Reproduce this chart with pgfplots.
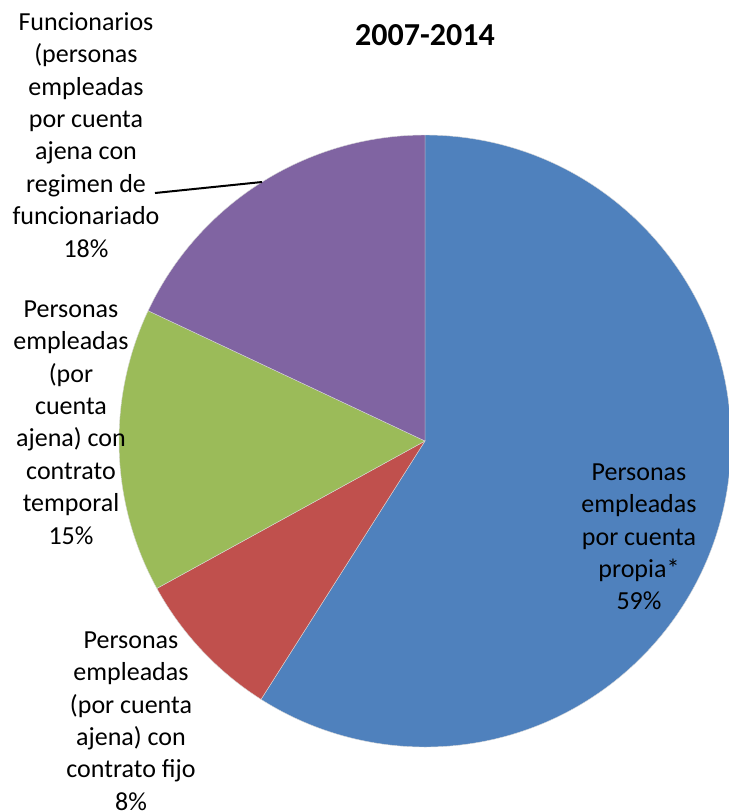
\documentclass[border=0pt]{standalone}
\usepackage{pgfplots}
\usepackage{pgfplotstable}
\pgfplotsset{compat=1.18}
\usepackage{fontspec}
\setmainfont{Carlito}

\definecolor{pieblue}{HTML}{4F81BD}
\definecolor{piered}{HTML}{C0504D}
\definecolor{piegreen}{HTML}{9BBB59}
\definecolor{piepurple}{HTML}{8064A2}

% shares in percent, clockwise from 12 o'clock
\pgfplotstableread{
share
59
8
15
18
}\piedata

\pgfplotstablegetelem{0}{share}\of\piedata \let\sA\pgfplotsretval
\pgfplotstablegetelem{1}{share}\of\piedata \let\sB\pgfplotsretval
\pgfplotstablegetelem{2}{share}\of\piedata \let\sC\pgfplotsretval
\pgfplotstablegetelem{3}{share}\of\piedata \let\sD\pgfplotsretval

\pgfmathsetmacro\aA{90}
\pgfmathsetmacro\aB{\aA-3.6*\sA}
\pgfmathsetmacro\aC{\aB-3.6*\sB}
\pgfmathsetmacro\aD{\aC-3.6*\sC}
\pgfmathsetmacro\aE{\aD-3.6*\sD}

\def\R{153pt}

\begin{document}
\begin{tikzpicture}
\begin{axis}[scale only axis, width=364.5pt, height=405.5pt,
             xmin=0, xmax=729, ymin=0, ymax=811, y dir=reverse,
             hide axis, clip=false]
  \tikzset{slice/.style={draw=white!85!black, line width=0.2pt},
           lbl/.style={anchor=north, inner sep=0pt, align=center,
                       font=\fontsize{13}{16.2}\selectfont}}
  \filldraw[pieblue, slice] (axis cs:425,441) -- ++(\aA:\R) arc[start angle=\aA, end angle=\aB, radius=\R] -- cycle;
  \filldraw[piered, slice] (axis cs:425,441) -- ++(\aB:\R) arc[start angle=\aB, end angle=\aC, radius=\R] -- cycle;
  \filldraw[piegreen, slice] (axis cs:425,441) -- ++(\aC:\R) arc[start angle=\aC, end angle=\aD, radius=\R] -- cycle;
  \filldraw[piepurple, slice] (axis cs:425,441) -- ++(\aD:\R) arc[start angle=\aD, end angle=\aE, radius=\R] -- cycle;

  \node[anchor=base, font=\fontsize{16}{19}\selectfont\bfseries] at (axis cs:425,45) {2007-2014};

  \node[lbl] at (axis cs:639,457.3) {\strut Personas\\empleadas\\por cuenta\\propia*\\\sA\%};
  \node[lbl] at (axis cs:131,625.3) {\strut Personas\\empleadas\\(por cuenta\\ajena) con\\contrato fijo\\\sB\%};
  \node[lbl] at (axis cs:71,294.3) {\strut Personas\\empleadas\\(por\\cuenta\\ajena) con\\contrato\\temporal\\\sC\%};
  \node[lbl] at (axis cs:86,7.3) {\strut Funcionarios\\(personas\\empleadas\\por cuenta\\ajena con\\regimen de\\funcionariado\\\sD\%};
  \draw[black, line width=1pt] (axis cs:155,193) -- (axis cs:262,182);

  \coordinate (bbsw) at (axis cs:0,811);
  \coordinate (bbne) at (axis cs:729,0);
\end{axis}
\pgfresetboundingbox
\path (bbsw) rectangle (bbne);
\end{tikzpicture}
\end{document}
